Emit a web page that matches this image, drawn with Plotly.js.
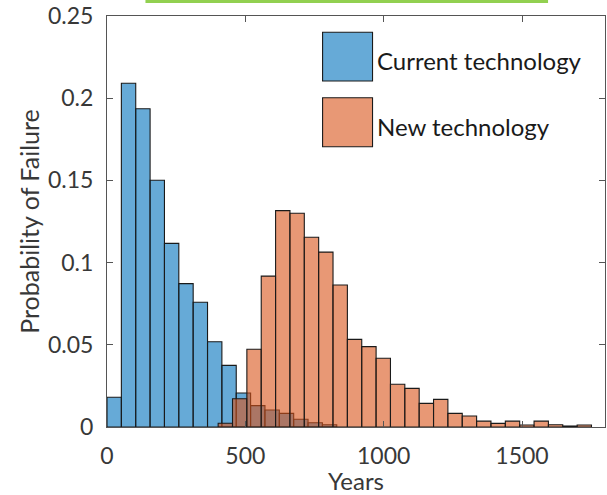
<!DOCTYPE html>
<html>
<head>
<meta charset="utf-8">
<script src="https://cdn.plot.ly/plotly-3.0.1.min.js"></script>
<style>
  html, body { margin: 0; padding: 0; background: #ffffff; }
  #chart { width: 607px; height: 495px; }
</style>
</head>
<body>
<div id="chart"></div>
<script>
// ---- data ----
var binWidth = 51.9;
var currentCenters = [26.0, 77.9, 129.8, 181.7, 233.6, 285.5, 337.4, 389.3,
                      441.2, 493.1, 545.0, 596.9, 648.8, 700.7, 752.6, 804.5];
var currentProb = [0.0181, 0.2091, 0.1936, 0.1501, 0.1117, 0.0872, 0.0759, 0.0519,
                   0.0375, 0.0207, 0.0130, 0.0103, 0.0083, 0.0047, 0.0026, 0.0014];
var newCenters = [427.7, 479.6, 531.5, 583.4, 635.3, 687.2, 739.1, 791.0,
                  842.9, 894.8, 946.7, 998.6, 1050.5, 1102.4, 1154.3, 1206.2,
                  1258.1, 1310.0, 1361.9, 1413.8, 1465.7, 1517.6, 1569.5, 1621.4,
                  1673.3, 1725.2];
var newProb = [0.0023, 0.0172, 0.0473, 0.0918, 0.1316, 0.1300, 0.1154, 0.1064,
               0.0864, 0.0533, 0.0489, 0.0418, 0.0260, 0.0235, 0.0144, 0.0168,
               0.0083, 0.0067, 0.0036, 0.0022, 0.0036, 0.0012, 0.0036, 0.0014,
               0.0006, 0.0012];
var seriesNames = ['Current technology', 'New technology'];
var xTickVals = [0, 500, 1000, 1500];
var xTickText = ['0', '500', '1000', '1500'];
var yTickVals = [0, 0.05, 0.1, 0.15, 0.2, 0.25];
var yTickText = ['0', '0.05', '0.1', '0.15', '0.2', '0.25'];

// ---- styling ----
var blueFill = 'rgba(0,114,189,0.6)';
var orangeFill = 'rgba(217,83,25,0.6)';
var edge = '#1a1a1a';
var textCol = '#383838';
var axisCol = '#555555';
var font = 'Lato, "Open Sans", sans-serif';

var traces = [
  {
    type: 'bar', name: seriesNames[0], x: currentCenters, y: currentProb,
    width: binWidth,
    marker: { color: blueFill, line: { color: edge, width: 1.1 } },
    showlegend: false, hoverinfo: 'x+y'
  },
  {
    type: 'bar', name: seriesNames[1], x: newCenters, y: newProb,
    width: binWidth,
    marker: { color: orangeFill, line: { color: edge, width: 1.1 } },
    showlegend: false, hoverinfo: 'x+y'
  }
];

// plot area in pixels: x 106.5..605, y 16..427
var L = 106.5, R = 605, T = 16, B = 427;
function px(x) { return (x - L) / (R - L); }
function py(y) { return (B - y) / (B - T); }

var layout = {
  width: 607, height: 495,
  margin: { l: L, r: 607 - R, t: T, b: 495 - B, pad: 0 },
  paper_bgcolor: '#ffffff', plot_bgcolor: '#ffffff',
  barmode: 'overlay', bargap: 0,
  font: { family: font, size: 23, color: textCol },
  xaxis: {
    range: [0, 1800], tickvals: xTickVals, ticktext: xTickText,
    ticks: 'inside', ticklen: 6, tickwidth: 1, tickcolor: axisCol,
    showline: true, linecolor: axisCol, linewidth: 1, mirror: 'ticks',
    showgrid: false, zeroline: false, ticklabelstandoff: 8,
    tickfont: { family: font, size: 23, color: textCol },
    title: { text: 'Years', font: { family: font, size: 24, color: textCol }, standoff: 6 }
  },
  yaxis: {
    range: [0, 0.25], tickvals: yTickVals, ticktext: yTickText,
    ticks: 'inside', ticklen: 6, tickwidth: 1, tickcolor: axisCol,
    showline: true, linecolor: axisCol, linewidth: 1, mirror: 'ticks',
    showgrid: false, zeroline: false, ticklabelstandoff: 8,
    tickfont: { family: font, size: 23, color: textCol },
    title: { text: 'Probability of Failure', font: { family: font, size: 25, color: textCol }, standoff: 1 }
  },
  shapes: [
    // green band at top (part of the original image frame)
    { type: 'rect', xref: 'paper', yref: 'paper', x0: px(145), x1: px(548), y0: py(3), y1: py(0),
      fillcolor: '#92d050', line: { width: 0 }, layer: 'above' },
    // legend swatches
    { type: 'rect', xref: 'paper', yref: 'paper', x0: px(322.3), x1: px(372.3), y0: py(81), y1: py(32.3),
      fillcolor: blueFill, line: { color: edge, width: 1.1 } },
    { type: 'rect', xref: 'paper', yref: 'paper', x0: px(322.3), x1: px(372.3), y0: py(146.7), y1: py(97.7),
      fillcolor: orangeFill, line: { color: edge, width: 1.1 } }
  ],
  annotations: [
    { xref: 'paper', yref: 'paper', x: px(375), y: py(61), xanchor: 'left', yanchor: 'middle',
      text: seriesNames[0], showarrow: false, font: { family: font, size: 24, color: '#1a1a1a' } },
    { xref: 'paper', yref: 'paper', x: px(375), y: py(126), xanchor: 'left', yanchor: 'middle',
      text: seriesNames[1], showarrow: false, font: { family: font, size: 24, color: '#1a1a1a' } }
  ]
};

Plotly.newPlot('chart', traces, layout, { displayModeBar: false, staticPlot: true });
</script>
</body>
</html>
